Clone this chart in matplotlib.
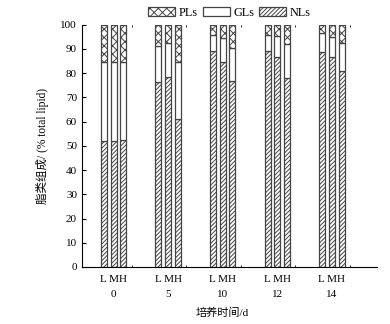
import matplotlib
matplotlib.use("Agg")
import matplotlib.pyplot as plt
import numpy as np

plt.rcParams['font.family'] = ['Liberation Serif', 'Noto Sans CJK SC']
plt.rcParams['hatch.linewidth'] = 0.7

days = ['0', '5', '10', '12', '14']
levels = ['L', 'M', 'H']
# NLs, GLs, PLs (% total lipid) for L, M, H in each day
NLs = [[52.0, 52.0, 52.3],
       [76.2, 78.5, 61.0],
       [89.3, 84.7, 76.9],
       [89.0, 86.5, 78.1],
       [88.8, 86.6, 80.8]]
GLs = [[32.6, 32.6, 32.1],
       [14.8, 13.9, 23.4],
       [6.6, 9.8, 13.5],
       [6.9, 9.0, 13.9],
       [7.6, 8.2, 11.6]]
PLs = [[15.4, 15.4, 15.6],
       [9.0, 7.6, 15.6],
       [4.1, 5.5, 9.6],
       [4.1, 4.5, 8.0],
       [3.6, 5.2, 7.6]]

fig = plt.figure(figsize=(3.9, 3.24), dpi=100)
ax = fig.add_axes([0.210, 0.176, 0.757, 0.748])

NL = np.array(NLs); GL = np.array(GLs); PL = np.array(PLs)
x = np.arange(len(days))
w = 0.11
off = 0.178
ec = '#444444'
for j in range(3):
    xs = x + (j - 1) * off
    ax.bar(xs, NL[:, j], w, color='white', edgecolor=ec, hatch='////////', lw=0.9,
           label='NLs' if j == 0 else None)
    ax.bar(xs, GL[:, j], w, bottom=NL[:, j], color='white', edgecolor=ec, lw=0.9,
           label='GLs' if j == 0 else None)
    ax.bar(xs, PL[:, j], w, bottom=NL[:, j] + GL[:, j], color='white', edgecolor=ec,
           hatch='xxxx', lw=0.9, label='PLs' if j == 0 else None)

ax.set_xlim(-0.58, 4.83)
ax.set_ylim(0, 100)
ax.set_yticks(np.arange(0, 101, 10))
ax.spines['top'].set_visible(False)
ax.spines['right'].set_visible(False)
ax.tick_params(axis='y', direction='in', length=3, labelsize=8, width=0.8)
ax.set_xticks(x + 0.33)
ax.set_xticklabels([])
ax.tick_params(axis='x', direction='in', length=1.5, top=True, width=0.6)

for i, d in enumerate(days):
    ax.text(i, -3.3, 'L MH', ha='center', va='top', fontsize=8)
    ax.text(i, -9.5, d, ha='center', va='top', fontsize=8)
ax.text(2, -16.8, '培养时间/d', ha='center', va='top', fontsize=8)
ax.set_ylabel('脂类组成/ (% total lipid)', fontsize=8.3, labelpad=8)

h, l = ax.get_legend_handles_labels()
order = [l.index('PLs'), l.index('GLs'), l.index('NLs')]
ax.legend([h[k] for k in order], [l[k] for k in order], loc='lower center',
          bbox_to_anchor=(0.5, 1.0), ncol=3, frameon=False, fontsize=8.8,
          handlelength=2.2, handleheight=0.7, handletextpad=0.3, columnspacing=0.4,
          borderaxespad=0.1)

fig.savefig('out.png', dpi=100)
